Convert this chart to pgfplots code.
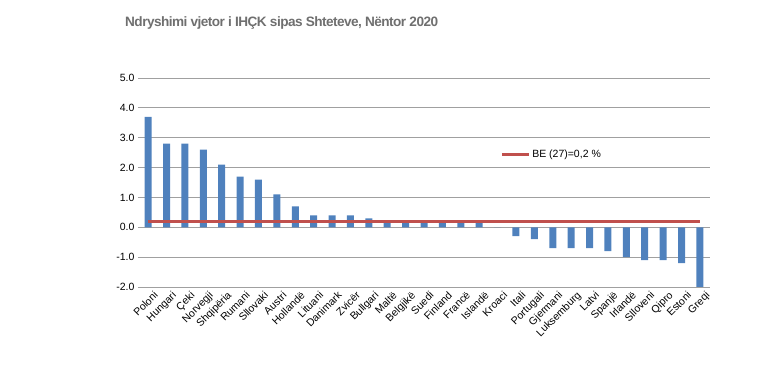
\documentclass[border=0pt]{standalone}
\usepackage{pgfplots}
\pgfplotsset{compat=1.18}
\usepackage{fontspec}
\setmainfont{Liberation Sans}
\definecolor{barblue}{HTML}{4F81BD}
\definecolor{bered}{HTML}{C0504D}
\definecolor{titlegray}{HTML}{6F6F6F}
\definecolor{gridgray}{HTML}{A0A0A0}
\begin{document}
\begin{tikzpicture}
\useasboundingbox (0,0) rectangle (778pt,390pt);
\node[anchor=west, text=titlegray, font=\bfseries\fontsize{13.6}{15}\selectfont, inner sep=0pt] at (125pt,367pt) {\addfontfeatures{LetterSpace=-4}Ndryshimi vjetor i IHÇK sipas Shteteve, Nëntor 2020};
\begin{axis}[
  at={(138pt,103pt)}, anchor=south west,
  scale only axis, width=572pt, height=209pt,
  xmin=-0.55, xmax=30.55, ymin=-2, ymax=5,
  ytick={-2,-1,0,1,2,3,4,5},
  ymajorgrids, grid style={gridgray, line width=0.8pt},
  axis line style={draw=none}, major tick length=0pt,
  font=\fontsize{10.5}{12}\selectfont,
  /pgf/number format/assume math mode=true,
  yticklabel style={/pgf/number format/.cd, fixed, fixed zerofill, precision=1},
  xtick={0,...,30},
  xticklabels={Poloni,Hungari,Çeki,Norvegji,Shqipëria,Rumani,Sllovaki,Austri,Hollandë,Lituani,Danimark,Zvicër,Bullgari,Maltë,Belgjikë,Suedi,Finland,Francë,Islandë,Kroaci,Itali,Portugali,Gjermani,Luksemburg,Latvi,Spanjë,Irlandë,Slloveni,Qipro,Estoni,Greqi},
  xticklabel style={rotate=45, anchor=north east, inner sep=1pt, yshift=-5pt, xshift=2pt},
  legend style={at={(0.633,0.636)}, anchor=west, draw=none, fill=none, inner sep=0pt,
    font=\fontsize{10.5}{12}\selectfont},
  legend image code/.code={\draw[#1] (0pt,0pt) -- (27pt,0pt);},
]
\addplot[ybar, bar width=7pt, fill=barblue, draw=none, forget plot] coordinates {
(0,3.7) (1,2.8) (2,2.8) (3,2.6) (4,2.1) (5,1.7) (6,1.6) (7,1.1) (8,0.7) (9,0.4)
(10,0.4) (11,0.4) (12,0.3) (13,0.2) (14,0.2) (15,0.2) (16,0.2) (17,0.2) (18,0.2) (19,0.0)
(20,-0.3) (21,-0.4) (22,-0.7) (23,-0.7) (24,-0.7) (25,-0.8) (26,-1.0) (27,-1.1) (28,-1.1) (29,-1.2) (30,-2.0)
};
\addplot[bered, line width=3pt, mark=none] coordinates {(0,0.2) (30,0.2)};
\addlegendentry{BE (27)=0,2 \%}
\end{axis}
\end{tikzpicture}
\end{document}
